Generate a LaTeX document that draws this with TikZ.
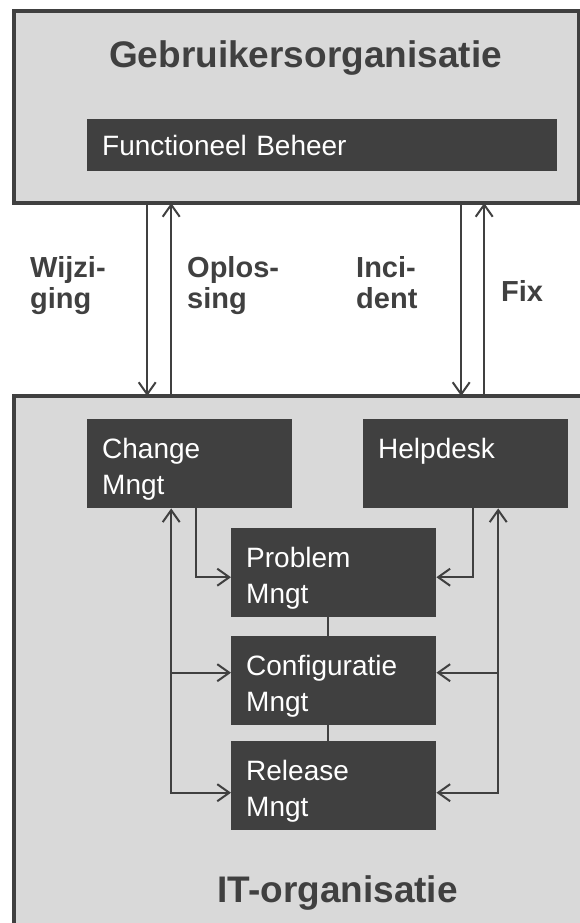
\documentclass[tikz,border=0pt]{standalone}
\usepackage{fontspec}
\setmainfont{Liberation Sans}
\usetikzlibrary{arrows.meta, positioning, calc}
\definecolor{panelgray}{RGB}{217, 217, 217}
\definecolor{boxdark}{RGB}{64, 64, 64}

\begin{document}
\begin{tikzpicture}[x=1pt, y=-1pt,
    panel/.style={draw=boxdark, fill=panelgray, line width=4pt, anchor=north west, inner sep=0pt, outer sep=0pt},
    procbox/.style={fill=boxdark, text=white, anchor=north west, minimum width=205pt, minimum height=89pt,
        inner xsep=15pt, inner ysep=0pt, text width=175pt, align=left, font=\fontsize{28}{36}\selectfont,
        execute at begin node=\rule{0pt}{31pt}, execute at end node=\rule[-6pt]{0pt}{0pt}},
    band/.style={fill=boxdark, text=white, anchor=north west, minimum width=470pt, minimum height=52pt,
        inner xsep=15pt, inner ysep=0pt, text width=440pt, align=left, font=\fontsize{28}{34}\selectfont},
    orgtitle/.style={text=boxdark, anchor=base, inner sep=0pt, font=\bfseries\fontsize{37}{44}\selectfont},
    flowlabel/.style={text=boxdark, anchor=north west, inner sep=0pt, align=left, font=\bfseries\fontsize{29}{31}\selectfont},
    flow/.style={draw=boxdark, line width=2pt, -{Straight Barb[length=12pt, width=17pt, line width=2pt]}},
    flowboth/.style={flow, {Straight Barb[length=12pt, width=17pt, line width=2pt]}-{Straight Barb[length=12pt, width=17pt, line width=2pt]}},
    link/.style={draw=boxdark, line width=2pt}]
    \useasboundingbox (0,0) rectangle (580,923);
    \clip (0,0) rectangle (580,923);

    % Gebruikersorganisatie (top)
    \node[panel, minimum width=565pt, minimum height=192pt] (gebr) at (14,11) {};
    \node[orgtitle] (gebrtitle) at (305.5,68) {Gebruikersorganisatie};
    \node[band] (fb) at (87,119) {Functioneel Beheer};

    % IT-organisatie (bottom)
    \node[panel, minimum width=570pt, minimum height=540pt] (itorg) at (14,396) {};
    \node[orgtitle] (ittitle) at (337.5,902) {IT-organisatie};

    \node[procbox] (chg) at (87,419) {Change\\Mngt};
    \node[procbox] (help) at (363,419) {Helpdesk\\\mbox{}};
    \node[procbox] (prob) at (231,528) {Problem\\Mngt};
    \node[procbox] (conf) at (231,636) {Configuratie\\Mngt};
    \node[procbox] (rel) at (231,741) {Release\\Mngt};

    % flows between the two organisations
    \coordinate (lbus) at ([xshift=-18.5pt]chg.south);
    \coordinate (rbus) at ([xshift=32.5pt]help.south);
    \coordinate (wijz) at ([xshift=-24pt]lbus);
    \coordinate (incid) at ([xshift=-4.5pt]help.south);
    \coordinate (fixc) at ([xshift=18.5pt]help.south);
    \draw[flow] (gebr.south -| wijz) -- (itorg.north -| wijz);
    \draw[flow] (itorg.north -| lbus) -- (gebr.south -| lbus);
    \draw[flow] (gebr.south -| incid) -- (itorg.north -| incid);
    \draw[flow] (itorg.north -| fixc) -- (gebr.south -| fixc);

    \node[flowlabel] (wijzlab) at (30,256) {Wijzi-\\ging};
    \node[flowlabel] (oploslab) at (187,256) {Oplos-\\sing};
    \node[flowlabel] (incilab) at (356,256) {Inci-\\dent};
    \node[flowlabel] (fixlab) at (501,280) {Fix};

    % flows inside the IT-organisatie
    \coordinate (lconf) at ([yshift=8pt]conf.west);
    \coordinate (rconf) at ([yshift=8pt]conf.east);
    \draw[flow] ([xshift=6.5pt]chg.south) |- ([yshift=-4.5pt]prob.west);
    \draw[flow] ([xshift=7.5pt]help.south) |- ([yshift=-4.5pt]prob.east);
    \draw[flowboth] (lbus) |- ([yshift=-7pt]rel.west);
    \draw[flowboth] (rbus) |- ([yshift=-7pt]rel.east);
    \draw[flow] (lbus |- lconf) -- (lconf);
    \draw[flow] (rbus |- rconf) -- (rconf);
    \draw[link] ([xshift=-5.5pt]prob.south) -- ([xshift=-5.5pt]conf.north);
    \draw[link] ([xshift=-5.5pt]conf.south) -- ([xshift=-5.5pt]rel.north);
\end{tikzpicture}
\end{document}
